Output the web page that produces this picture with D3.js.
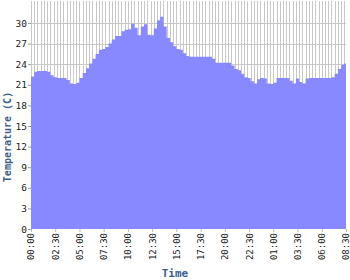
<!DOCTYPE html>
<html>
<head>
<meta charset="utf-8">
<script src="https://cdn.jsdelivr.net/npm/d3@7"></script>
<style>
  body { margin: 0; background: #fff; }
  svg { display: block; font-family: "DejaVu Sans Mono", monospace; }
</style>
</head>
<body>
<svg width="350" height="280"></svg>
<script>
// readings every 20 minutes starting at 00:00
var stepMinutes = 20;
var temps = [
    22.2, 22.9, 23.0, 23.0, 23.0, 22.9, 22.4, 22.1, 22.0, 22.0,
    22.0, 21.7, 21.2, 21.1, 21.3, 22.0, 22.7, 23.4, 24.1, 24.8,
    25.5, 26.1, 26.2, 26.5, 27.0, 27.6, 28.1, 28.1, 28.8, 29.0,
    29.1, 29.9, 29.3, 28.2, 29.5, 29.8, 28.3, 28.2, 29.2, 30.4,
    30.9, 29.5, 27.8, 27.2, 26.6, 26.2, 26.1, 25.6, 25.2, 25.1,
    25.1, 25.1, 25.1, 25.1, 25.1, 25.1, 24.8, 24.2, 24.2, 24.2,
    24.2, 24.2, 23.8, 23.3, 23.1, 22.6, 22.1, 22.0, 21.5, 21.2,
    21.8, 22.0, 21.9, 21.2, 21.1, 21.3, 22.0, 22.0, 22.0, 22.0,
    21.6, 21.2, 21.9, 21.4, 21.2, 21.9, 22.0, 22.0, 22.0, 22.0,
    22.0, 22.0, 22.0, 22.1, 22.6, 23.3, 23.9, 24.1
];
var xTickMinutes = [0, 150, 300, 450, 600, 750, 900, 1050, 1200, 1350, 1500, 1650, 1800, 1950];
var yTicks = [0, 3, 6, 9, 12, 15, 18, 21, 24, 27, 30];
var endMinutes = 1950;
var yMax = 33.2;

var data = temps.map(function(t, i) {
    return { m: i * stepMinutes, t: t };
});

var svg = d3.select("svg"),
    plotLeft = 31, plotRight = 346, plotTop = 1, plotBottom = 229;

var x = d3.scaleLinear().domain([0, endMinutes]).range([plotLeft, plotRight]);
var y = d3.scaleLinear().domain([0, yMax]).range([plotBottom, plotTop]);

function hhmm(m) {
    var h = Math.floor(m / 60) % 24, mm = m % 60;
    return (h < 10 ? "0" + h : h) + ":" + (mm < 10 ? "0" + mm : mm);
}

// grid
svg.append("g")
    .selectAll("line")
    .data(data)
    .enter().append("line")
    .attr("x1", function(d) { return Math.round(x(d.m)) + 0.5; })
    .attr("x2", function(d) { return Math.round(x(d.m)) + 0.5; })
    .attr("y1", plotTop)
    .attr("y2", plotBottom)
    .attr("stroke", "#c8c8c8");

svg.append("g")
    .selectAll("line")
    .data(yTicks.slice(1))
    .enter().append("line")
    .attr("x1", plotLeft)
    .attr("x2", plotRight)
    .attr("y1", function(d) { return Math.round(y(d)) + 0.5; })
    .attr("y2", function(d) { return Math.round(y(d)) + 0.5; })
    .attr("stroke", "#c8c8c8");

// area
var area = d3.area()
    .curve(d3.curveStepAfter)
    .x(function(d) { return x(d.m); })
    .y0(plotBottom)
    .y1(function(d) { return y(d.t); });

var areaData = data.concat([{ m: endMinutes, t: temps[temps.length - 1] }]);

svg.append("path")
    .datum(areaData)
    .attr("fill", "#8888ff")
    .attr("d", area);

// axes
var xAxis = d3.axisBottom(x)
    .tickValues(xTickMinutes)
    .tickSize(3)
    .tickFormat(hhmm);

var gx = svg.append("g")
    .attr("transform", "translate(0," + plotBottom + ")")
    .call(xAxis);
gx.select(".domain").remove();
gx.selectAll("line").attr("stroke", "#bbb");
gx.selectAll("text")
    .attr("transform", "rotate(-90)")
    .attr("x", -4)
    .attr("y", 0)
    .attr("dy", "0.33em")
    .attr("text-anchor", "end")
    .attr("fill", "#222")
    .style("font-family", "'DejaVu Sans Mono', monospace")
    .style("font-size", "9px");

var yAxis = d3.axisLeft(y)
    .tickValues(yTicks)
    .tickSize(3)
    .tickPadding(1);

var gy = svg.append("g")
    .attr("transform", "translate(" + plotLeft + ",0)")
    .call(yAxis);
gy.select(".domain").remove();
gy.selectAll("line").attr("stroke", "#999");
gy.selectAll("text")
    .attr("fill", "#222")
    .style("font-family", "'DejaVu Sans Mono', monospace")
    .style("font-size", "9.5px");

// titles
svg.append("text")
    .attr("transform", "translate(11,137) rotate(-90)")
    .attr("text-anchor", "middle")
    .attr("fill", "#3d5f8a")
    .style("font-size", "10px")
    .style("font-weight", "bold")
    .text("Temperature (C)");

svg.append("text")
    .attr("x", 175)
    .attr("y", 277)
    .attr("text-anchor", "middle")
    .attr("fill", "#3d5f8a")
    .style("font-size", "11px")
    .style("font-weight", "bold")
    .text("Time");
</script>
</body>
</html>
